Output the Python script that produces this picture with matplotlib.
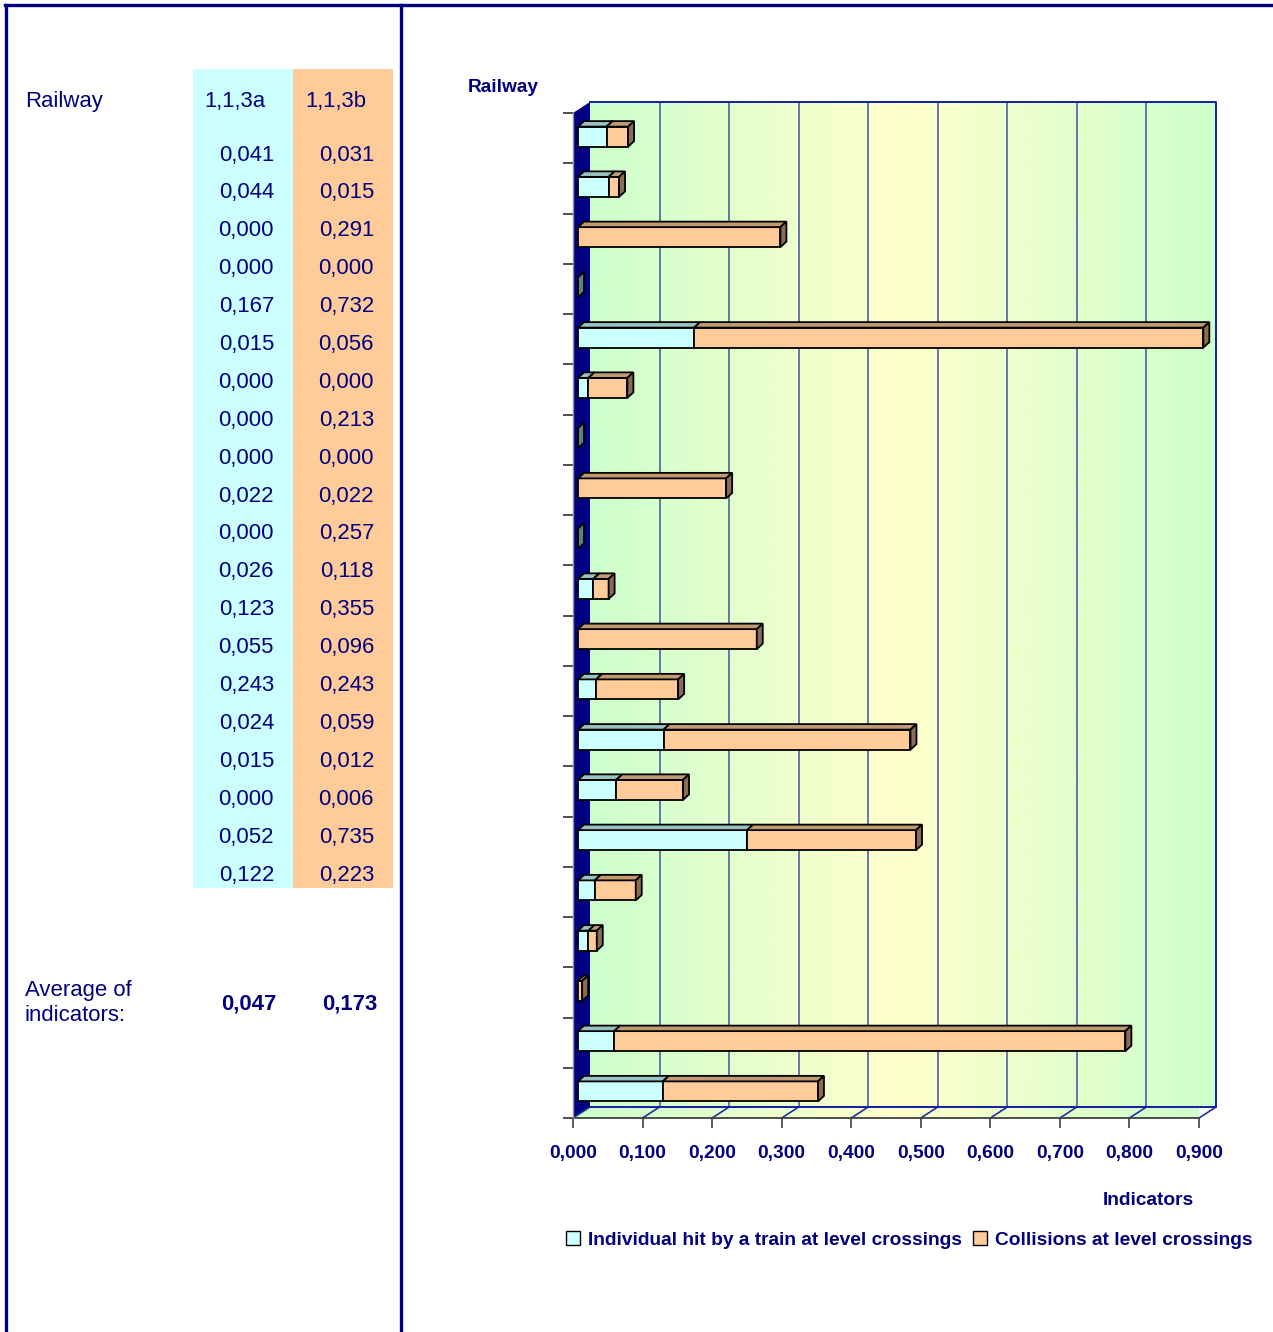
import numpy as np
import matplotlib
matplotlib.use("Agg")
import matplotlib.pyplot as plt
from matplotlib import font_manager
from matplotlib.patches import Polygon, Patch, Rectangle
import matplotlib.ticker as ticker

# ---- data ----
col_headers = ["1,1,3a", "1,1,3b"]
railway_a = [0.041, 0.044, 0.000, 0.000, 0.167, 0.015, 0.000, 0.000, 0.000, 0.022,
             0.000, 0.026, 0.123, 0.055, 0.243, 0.024, 0.015, 0.000, 0.052, 0.122]
railway_b = [0.031, 0.015, 0.291, 0.000, 0.732, 0.056, 0.000, 0.213, 0.000, 0.022,
             0.257, 0.118, 0.355, 0.096, 0.243, 0.059, 0.012, 0.006, 0.735, 0.223]
avg_a = 0.047
avg_b = 0.173
series_names = ["Individual hit by a train at level crossings",
                "Collisions at level crossings"]
x_ticks = [0.0, 0.1, 0.2, 0.3, 0.4, 0.5, 0.6, 0.7, 0.8, 0.9]

# ---- style ----
navy = "#000080"
cyan = "#CCFFFF"
cyan_top = "#99C2C2"
cyan_side = "#5F7F7F"
orange = "#FFCC99"
orange_top = "#C29A70"
orange_side = "#8A6D50"

names = {f.name for f in font_manager.fontManager.ttflist}
if "Liberation Sans Narrow" in names:
    narrow, fs = "Liberation Sans Narrow", 1.0
else:
    narrow, fs = "Liberation Sans", 0.86

def comma(v, pos=None):
    return ("%.3f" % v).replace(".", ",")

W, H = 1273, 1332
fig = plt.figure(figsize=(W / 100, H / 100), dpi=100)

# background / left panel in pixel coords
bg = fig.add_axes([0, 0, 1, 1])
bg.set_xlim(0, W)
bg.set_ylim(H, 0)
bg.axis("off")

bg.plot([5, W], [5, 5], color=navy, lw=2.4)
bg.plot([6, 6], [5, H], color=navy, lw=2.4)
bg.plot([401, 401], [5, H], color=navy, lw=2.4)

bg.add_patch(Rectangle((193, 69), 100, 819, color=cyan, lw=0))
bg.add_patch(Rectangle((293, 69), 100, 819, color=orange, lw=0))
for k in range(len(railway_a)):
    yb = 133 + 37.9 * k
    bg.plot([205, 300], [yb, yb], color="white", lw=0.8, alpha=0.15)

tfont = dict(family=narrow, color=navy, size=18.5 * fs, va="center")
bg.text(25, 101, "Railway", ha="left", **tfont)
bg.text(204, 101, col_headers[0], ha="left", **tfont)
bg.text(305, 101, col_headers[1], ha="left", **tfont)
for i, (a, b) in enumerate(zip(railway_a, railway_b)):
    y = 155 + 37.9 * i
    bg.text(274, y, comma(a), ha="right", **tfont)
    bg.text(374, y, comma(b), ha="right", **tfont)
bg.text(25, 1003, "Average of\nindicators:", ha="left", linespacing=1.3, **tfont)
bg.text(277, 1004, comma(avg_a), ha="right", weight="bold", **tfont)
bg.text(377, 1004, comma(avg_b), ha="right", weight="bold", **tfont)

# ---- chart (front plane of the pseudo-3D box) ----
px0, px1, py0, py1 = 573, 1199, 113, 1118
ax = fig.add_axes([px0 / W, 1 - py1 / H, (px1 - px0) / W, (py1 - py0) / H])
n = len(railway_a)
ax.set_xlim(0, 0.9)
ax.set_ylim(n - 0.5, -0.5)
ax.patch.set_visible(False)

sx = 0.9 / (px1 - px0)
sy = n / (py1 - py0)
dxb, dyb = 17 * sx, -11 * sy        # depth of the box

# back wall with gradient
t = np.linspace(0, 1, 256)
w = 1 - np.abs(2 * t - 1)
grad = np.zeros((1, 256, 3))
grad[..., 0] = (204 + 51 * w) / 255
grad[..., 1] = 1.0
grad[..., 2] = 204 / 255
ax.imshow(grad, extent=(dxb, 0.9 + dxb, n - 0.5 + dyb, -0.5 + dyb),
          aspect="auto", zorder=0, clip_on=False)

# floor with gradient
floor = Polygon([(0, n - 0.5), (0.9, n - 0.5), (0.9 + dxb, n - 0.5 + dyb),
                 (dxb, n - 0.5 + dyb)], closed=True, facecolor="none",
                edgecolor="none", transform=ax.transData)
ax.add_patch(floor)
im = ax.imshow(grad, extent=(0, 0.9 + dxb, n - 0.5, n - 0.5 + dyb),
               aspect="auto", zorder=0, clip_on=True)
im.set_clip_path(floor)

# left wall
ax.add_patch(Polygon([(0, -0.5), (dxb, -0.5 + dyb), (dxb, n - 0.5 + dyb), (0, n - 0.5)],
                     closed=True, facecolor=navy, edgecolor="none", zorder=1,
                     clip_on=False))

# gridlines on the back wall and floor
ax.vlines(np.array(x_ticks[1:-1]) + dxb, -0.5 + dyb, n - 0.5 + dyb,
          color="#5A6AA8", lw=1.3, zorder=1, clip_on=False)
for v in x_ticks:
    ax.plot([v, v + dxb], [n - 0.5, n - 0.5 + dyb], color="#2030A0", lw=1.2,
            zorder=1, clip_on=False)
ax.plot([dxb, 0.9 + dxb, 0.9 + dxb, dxb], [-0.5 + dyb, -0.5 + dyb, n - 0.5 + dyb,
        n - 0.5 + dyb], color="#1020A0", lw=1.4, zorder=1, clip_on=False)

# bars
bx = 5 * sx
ypos = np.arange(n) - 1.5 * sy
h = 20 * sy
ddx, ddy = 6 * sx, -5.5 * sy
a = np.array(railway_a)
b = np.array(railway_b)
ax.barh(ypos, a, left=bx, height=h, color=cyan, edgecolor="black", lw=1.3,
        zorder=5, clip_on=False)
ax.barh(ypos, b, left=bx + a, height=h, color=orange, edgecolor="black", lw=1.3,
        zorder=5, clip_on=False)
for i in range(n):
    yt = ypos[i] - h / 2
    yb_ = ypos[i] + h / 2
    for left, wd, col in [(bx, a[i], cyan_top), (bx + a[i], b[i], orange_top)]:
        if wd > 0:
            ax.add_patch(Polygon([(left, yt), (left + wd, yt), (left + wd + ddx, yt + ddy),
                                  (left + ddx, yt + ddy)], closed=True, facecolor=col,
                                 edgecolor="black", lw=1.3, zorder=5, clip_on=False))
    xe = bx + a[i] + b[i]
    side = orange_side if b[i] > 0 else cyan_side
    ax.add_patch(Polygon([(xe, yt), (xe + ddx, yt + ddy), (xe + ddx, yb_ + ddy), (xe, yb_)],
                         closed=True, facecolor=side, edgecolor="black", lw=1.3,
                         zorder=5, clip_on=False))

# axes, ticks
for s in ["top", "right"]:
    ax.spines[s].set_visible(False)
ax.spines["left"].set_color("#909090")
ax.spines["left"].set_linewidth(1.0)
ax.spines["bottom"].set_color("#404040")
ax.spines["bottom"].set_linewidth(1.3)
ax.spines["bottom"].set_zorder(2)
ax.set_xticks(x_ticks)
ax.xaxis.set_major_formatter(ticker.FuncFormatter(comma))
ax.set_yticks(np.arange(n + 1) - 0.5)
ax.set_yticklabels([])
ax.tick_params(axis="x", length=7.2, width=1.2, color="#404040", pad=12)
ax.tick_params(axis="y", length=7.2, width=1.2, color="#303030")
for lab in ax.get_xticklabels():
    lab.set_fontfamily(narrow)
    lab.set_fontweight("bold")
    lab.set_fontsize(16 * fs)
    lab.set_color(navy)

ax.set_xlabel("Indicators", loc="right", family=narrow, weight="bold",
              size=16 * fs, color=navy, labelpad=22)
ax.xaxis.label.set_x(0.992)
fig.text(503 / W, 1 - 87 / H, "Railway", ha="center", va="center", family=narrow,
         weight="bold", size=16 * fs, color=navy)

handles = [Patch(facecolor=cyan, edgecolor="black", lw=1.0),
           Patch(facecolor=orange, edgecolor="black", lw=1.0)]
fig.legend(handles, series_names, loc="center", bbox_to_anchor=(909 / W, 1 - 1240 / H),
           ncol=2, frameon=False, labelcolor=navy, handlelength=0.75, handleheight=0.75,
           handletextpad=0.4, columnspacing=0.6,
           prop=dict(family=narrow, weight="bold", size=16 * fs))

fig.savefig("out.png", dpi=100)
